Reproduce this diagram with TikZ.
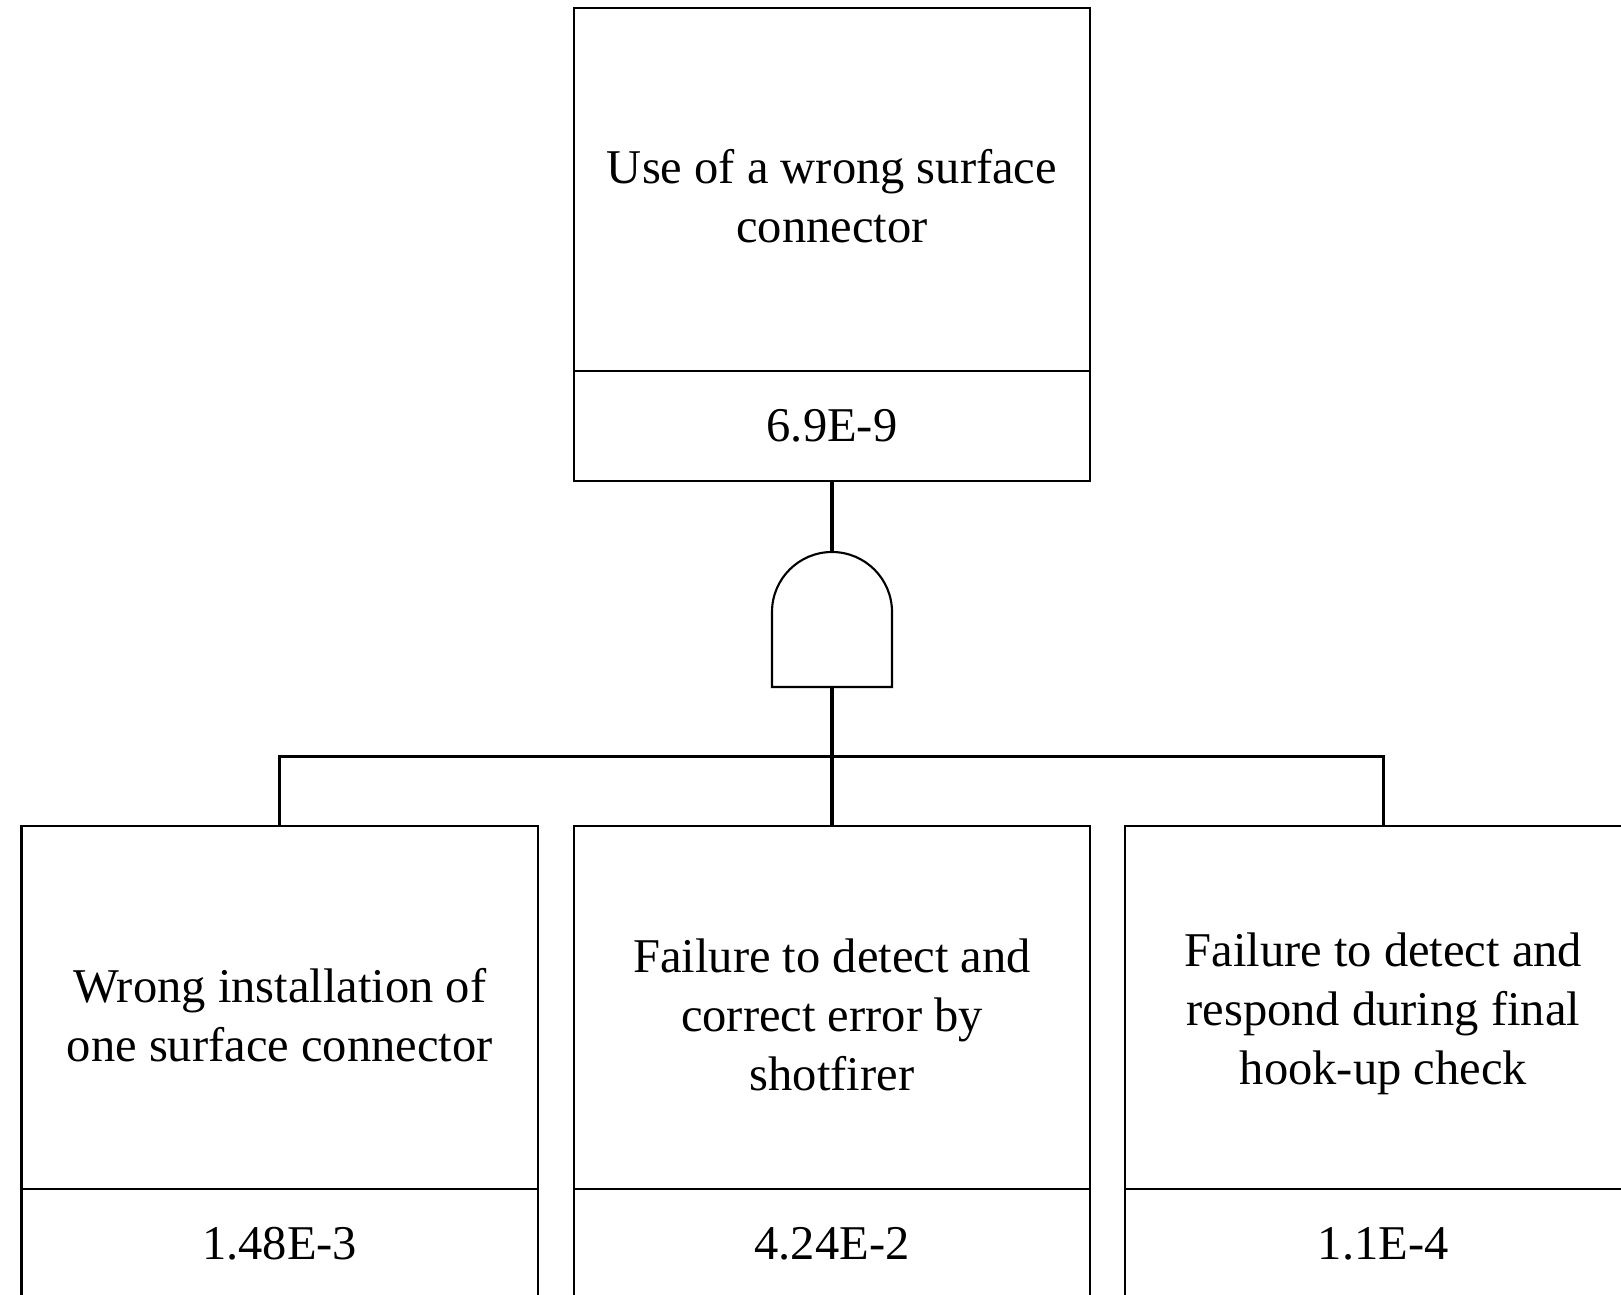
\documentclass[tikz,border=0pt]{standalone}
\usepackage{fontspec}
\setmainfont{Liberation Serif}
\usetikzlibrary{positioning}
\tikzset{
  eventbox/.style={draw=black,line width=0.6pt,outer sep=0pt,
                   minimum width=5.16cm,minimum height=3.63cm},
  eventtext/.style={align=center,inner sep=0pt,font=\fontsize{13.8}{16.8}\selectfont},
  probbox/.style={draw=black,line width=0.6pt,outer sep=0pt,
                  minimum width=5.16cm,minimum height=1.10cm,
                  align=center,inner sep=4pt,font=\fontsize{13.8}{16.8}\selectfont},
  gateline/.style={draw=black,line width=0.6pt},
  treeline/.style={line width=0.9pt}
}

\begin{document}
\begin{tikzpicture}[x=0.01cm,y=-0.01cm]
  \useasboundingbox (0,0) rectangle (1621,1295);
  \clip (0,0) rectangle (1621,1295);
  % top event
  \node[eventbox] (top) at (832,189.5) {};
  \node[eventtext] (toptext) at ([yshift=-0.07cm]top.center) {Use of a wrong surface\\connector};
  \node[probbox,below=0pt of top] (topval) {6.9E-9};
  % AND gate
  \coordinate (andtop) at (832,552);
  \coordinate (andbot) at (832,687);
  \draw[gateline] (772,687) -- (772,612)
    .. controls (772,578.9) and (798.9,552) .. (andtop)
    .. controls (865.1,552) and (892,578.9) .. (892,612)
    -- (892,687) -- cycle;
  % basic events
  \node[eventbox] (ev2) at (832,1007.5) {};
  \node[eventbox,left=0.36cm of ev2] (ev1) {};
  \node[eventbox,right=0.35cm of ev2] (ev3) {};
  \node[eventtext] (ev1text) at ([yshift=-0.075cm]ev1.center) {Wrong installation of\\one surface connector};
  \node[eventtext] (ev2text) at ([yshift=-0.07cm]ev2.center) {Failure to detect and\\correct error by\\shotfirer};
  \node[eventtext] (ev3text) at ([yshift=-0.06cm]ev3.center) {Failure to detect and\\respond during final\\hook-up check};
  \node[probbox,below=0pt of ev1] (ev1val) {1.48E-3};
  \node[probbox,below=0pt of ev2] (ev2val) {4.24E-2};
  \node[probbox,below=0pt of ev3] (ev3val) {1.1E-4};
  % connectors
  \coordinate (bus) at (832,756.5);
  \draw[treeline] (topval.south) -- (andtop);
  \draw[treeline] (andbot) -- (ev2.north);
  \draw[treeline] (ev1.north) |- (bus) -| (ev3.north);
\end{tikzpicture}
\end{document}
